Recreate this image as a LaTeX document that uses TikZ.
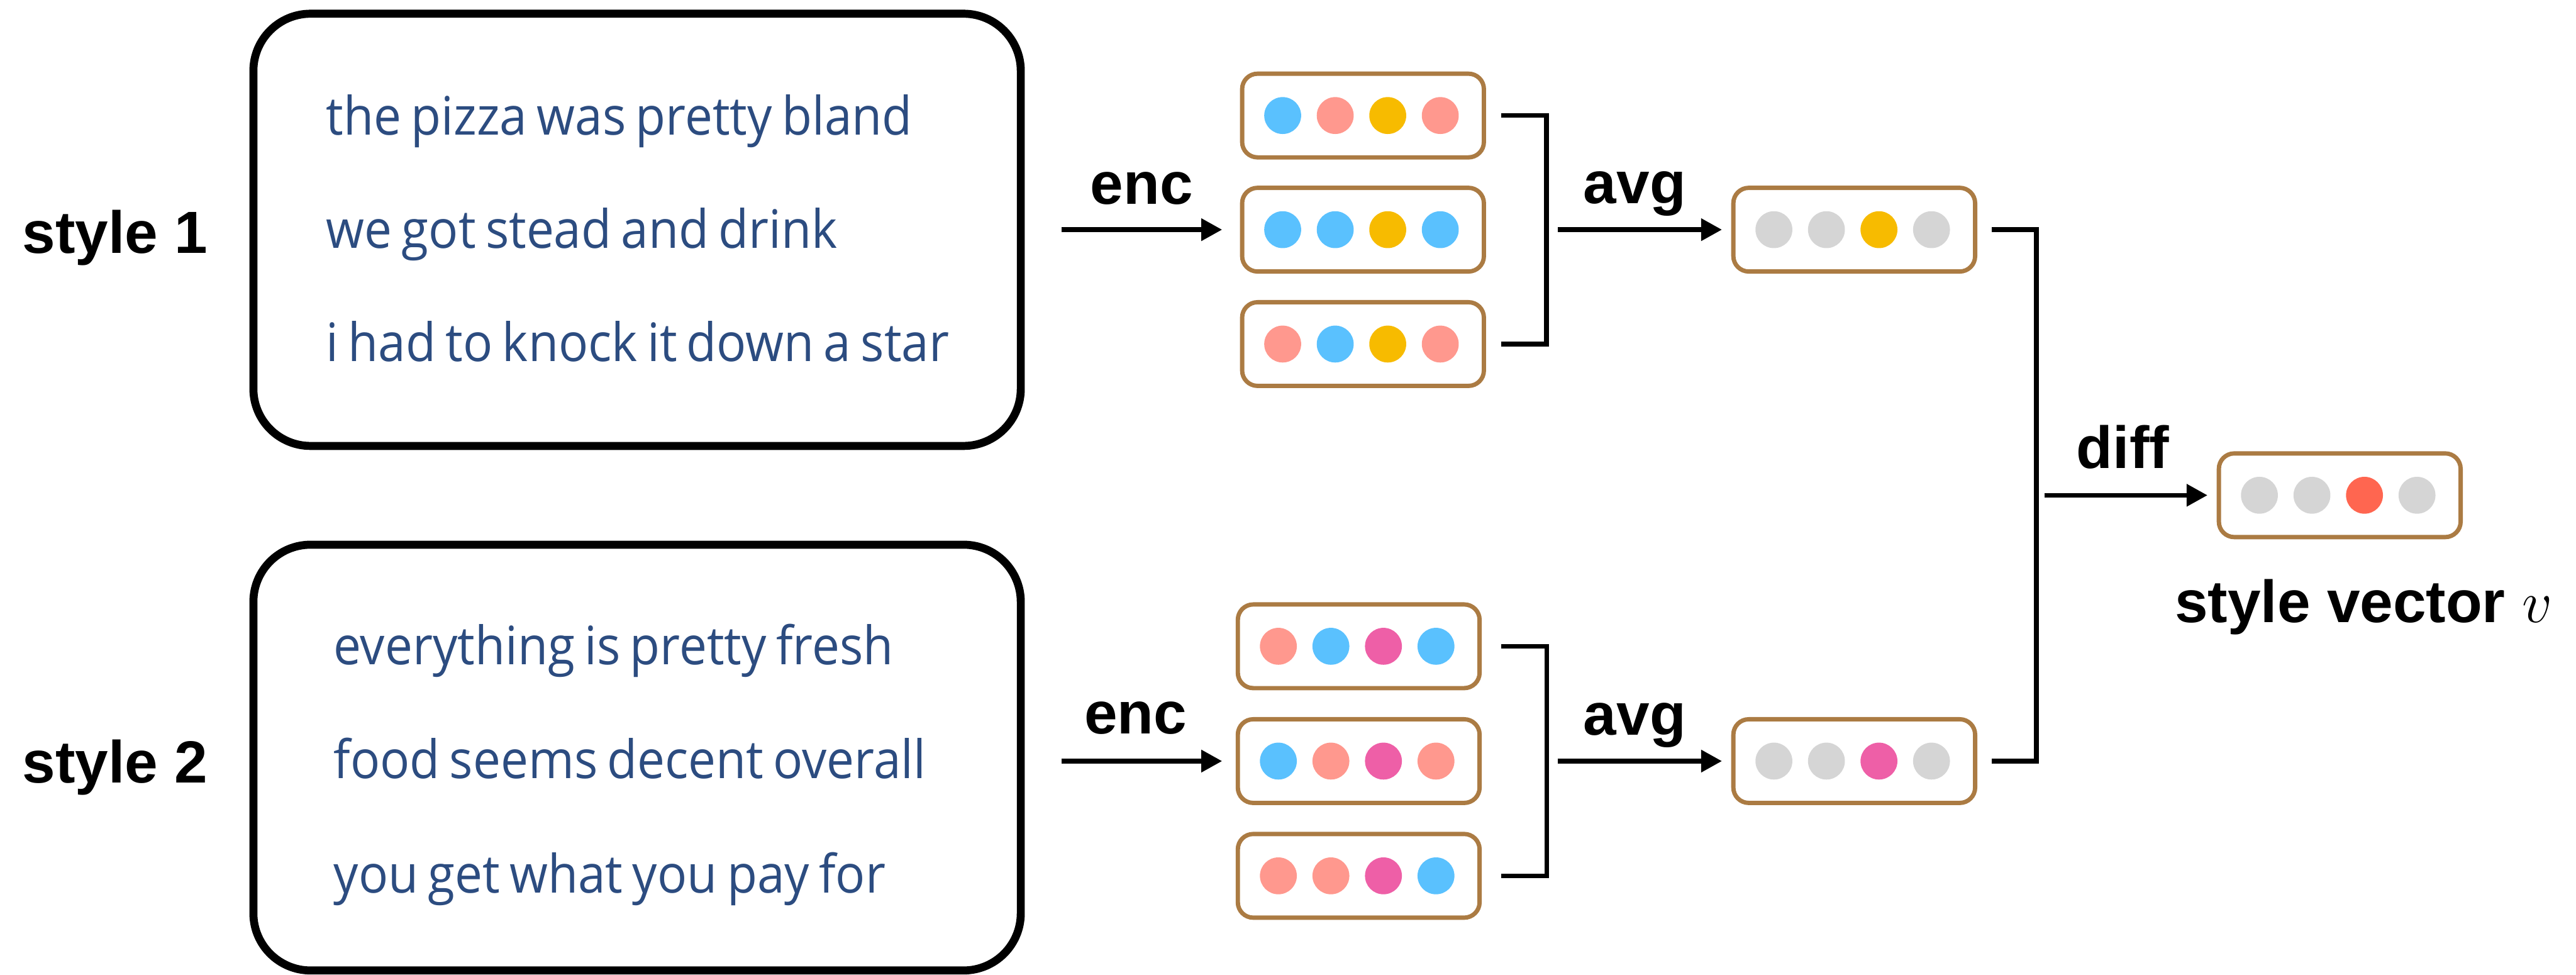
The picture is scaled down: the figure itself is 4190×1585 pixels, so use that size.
\RequirePackage{fix-cm}
\documentclass[tikz,border=0pt]{standalone}
\usepackage{fontspec}
\newfontfamily\labelfont{Liberation Sans}
\newfontfamily\quotefont[FakeStretch=0.93, WordSpace=0.75]{Open Sans}
\usetikzlibrary{arrows.meta}

\definecolor{quoteblue}{HTML}{2C4C80}
\definecolor{vecbrown}{HTML}{AB7B43}
\definecolor{cblue}{HTML}{5AC1FE}
\definecolor{csalmon}{HTML}{FF988E}
\definecolor{cyellow}{HTML}{F7BB00}
\definecolor{cpink}{HTML}{EE5FA7}
\definecolor{cgray}{HTML}{D5D5D5}
\definecolor{cred}{HTML}{FF6650}

% a small embedding vector: rounded brown box holding four coloured dots
\newcommand\vecnode[7]{%
  \node[vecbox] (#1) at (#2,#3) {};
  \foreach \c [count=\i] in {#4,#5,#6,#7}{
    \pgfmathsetmacro\dx{(-2.5+(\i-2.5)*85.4)/100}
    \node[dot, fill=\c] (#1-\i) at ([xshift=\dx cm]#1.center) {};
  }%
}

\begin{document}
\begin{tikzpicture}[x=0.01cm, y=-0.01cm,
  lbl/.style={font=\labelfont\bfseries\fontsize{27.5}{33}\selectfont, anchor=base west, inner sep=0pt},
  quote/.style={font=\quotefont\fontsize{24.5}{29}\selectfont, text=quoteblue, anchor=base west, inner sep=0pt},
  panel/.style={draw=black, line width=3.7pt, rounded corners=0.93cm, minimum width=12.475cm, inner sep=0pt},
  vecbox/.style={draw=vecbrown, line width=2pt, rounded corners=0.25cm, minimum width=3.93cm, minimum height=1.36cm, inner sep=0pt},
  dot/.style={circle, minimum size=0.6cm, inner sep=0pt, draw=none},
  link/.style={line width=2.2pt},
  arr/.style={link, -{Triangle[length=3.4mm, width=3.5mm]}}]

\useasboundingbox (0,0) rectangle (4190,1585);

% sentence panels
\node[panel, minimum height=7.025cm] (P1) at (1036.25,373.75) {};
\node[panel, minimum height=6.92cm] (P2) at (1036.25,1232) {};

\node[quote] (q11) at (530,219) {the pizza was pretty bland};
\node[quote] (q12) at (530,404) {we got stead and drink};
\node[quote] (q13) at (530,587.3) {i had to knock it down a star};
\node[quote] (q21) at (542,1081) {everything is pretty fresh};
\node[quote] (q22) at (542,1266) {food seems decent overall};
\node[quote] (q23) at (542,1451.7) {you get what you pay for};

\node[lbl] (s1) at (36,412) {style 1};
\node[lbl] (s2) at (36,1272.6) {style 2};

% sentence encodings
\vecnode{A}{2217}{187.9}{cblue}{csalmon}{cyellow}{csalmon}
\vecnode{B}{2217}{373.5}{cblue}{cblue}{cyellow}{cblue}
\vecnode{C}{2217}{559.5}{csalmon}{cblue}{cyellow}{csalmon}
\vecnode{D}{2210}{1051}{csalmon}{cblue}{cpink}{cblue}
\vecnode{E}{2210}{1237.7}{cblue}{csalmon}{cpink}{csalmon}
\vecnode{F}{2210}{1424.3}{csalmon}{csalmon}{cpink}{cblue}

% averages and their difference
\vecnode{U}{3016}{373.5}{cgray}{cgray}{cyellow}{cgray}
\vecnode{L}{3016}{1237.7}{cgray}{cgray}{cpink}{cgray}
\vecnode{V}{3805.7}{805.4}{cgray}{cgray}{cred}{cgray}

% encode
\draw[arr, shorten <=0.595cm, shorten >=0.29cm] (P1.east |- B.west) -- (B.west);
\draw[arr, shorten <=0.595cm, shorten >=0.22cm] (P2.east |- E.west) -- (E.west);
\node[lbl] (enc1) at (1773,331.7) {enc};
\node[lbl] (enc2) at (1763,1193.3) {enc};

% average
\draw[link] ([xshift=0.25cm]A.east) -- ([xshift=0.985cm]A.east) -- ([xshift=0.985cm]C.east) -- ([xshift=0.25cm]C.east);
\draw[link] ([xshift=0.32cm]D.east) -- ([xshift=1.055cm]D.east) -- ([xshift=1.055cm]F.east) -- ([xshift=0.32cm]F.east);
\coordinate (jU) at ([xshift=0.985cm]B.east);
\coordinate (jL) at ([xshift=1.055cm]E.east);
\draw[arr, shorten <=0.185cm, shorten >=0.15cm] (jU) -- (U.west);
\draw[arr, shorten <=0.185cm, shorten >=0.15cm] (jL) -- (L.west);
\node[lbl] (avg1) at (2575,330.7) {avg};
\node[lbl] (avg2) at (2575,1195) {avg};

% difference
\draw[link] ([xshift=0.24cm]U.east) -- ([xshift=0.96cm]U.east) -- ([xshift=0.96cm]L.east) -- ([xshift=0.24cm]L.east);
\coordinate (jR) at ([xshift=0.96cm]U.east |- V.west);
\draw[arr, shorten <=0.13cm, shorten >=0.15cm] (jR) -- (V.west);
\node[lbl] (dif) at (3377,761.7) {diff};
\node[lbl] (sv) at (3537,1011.7) {style vector $v$};

\end{tikzpicture}
\end{document}
